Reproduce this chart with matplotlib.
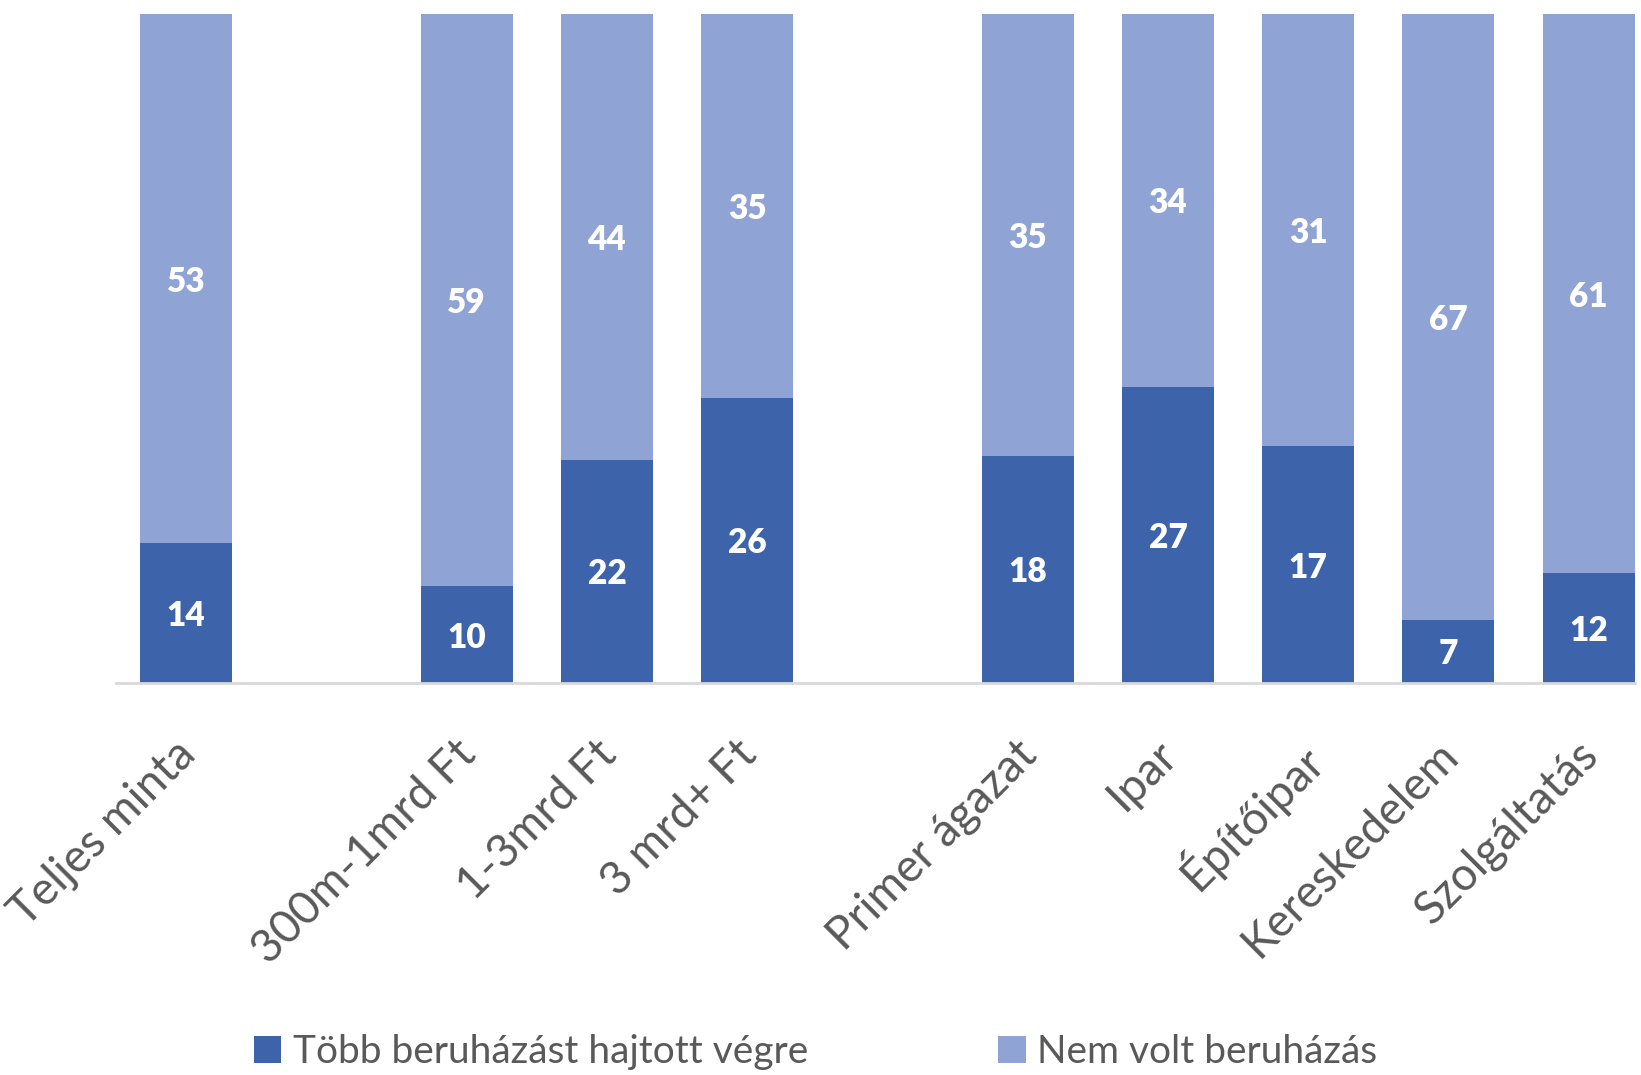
import matplotlib.pyplot as plt
import matplotlib.transforms as mtransforms
import numpy as np

# categories (empty strings are the gaps between groups)
categories = ['Teljes minta', '', '300m-1mrd Ft', '1-3mrd Ft', '3 mrd+ Ft', '',
              'Primer ágazat', 'Ipar', 'Építőipar', 'Kereskedelem', 'Szolgáltatás']
tobb = [14, np.nan, 10, 22, 26, np.nan, 18, 27, 17, 7, 12]
nem_volt = [53, np.nan, 59, 44, 35, np.nan, 35, 34, 31, 67, 61]
series_names = ['Több beruházást hajtott végre', 'Nem volt beruházás']

dark = '#3D64AB'
light = '#8FA4D5'
grey = '#595959'

plt.rcParams['font.family'] = ['Lato', 'DejaVu Sans']

a = np.array(tobb, dtype=float)
b = np.array(nem_volt, dtype=float)
total = a + b
sa = a / total
sb = b / total
x = np.arange(len(categories))

fig = plt.figure(figsize=(16.41, 10.75), dpi=100)
ax = fig.add_axes([116 / 1641, 1 - 683 / 1075, (1635 - 116) / 1641, (683 - 14) / 1075])

w = 0.656
bars1 = ax.bar(x, np.nan_to_num(sa), w, color=dark, label=series_names[0])
bars2 = ax.bar(x, np.nan_to_num(sb), w, bottom=np.nan_to_num(sa), color=light, label=series_names[1])

for i in range(len(x)):
    if np.isnan(total[i]):
        continue
    ax.text(x[i], sa[i] / 2, f'{int(a[i])}', ha='center', va='center_baseline',
            color='white', fontsize=24, fontweight='heavy')
    ax.text(x[i], sa[i] + sb[i] / 2, f'{int(b[i])}', ha='center', va='center_baseline',
            color='white', fontsize=24, fontweight='heavy')

ax.set_xlim(-0.5, 10.33)
ax.set_ylim(0, 1)
ax.set_yticks([])
for s in ['top', 'right', 'left']:
    ax.spines[s].set_visible(False)
ax.spines['bottom'].set_color('#D9D9D9')
ax.spines['bottom'].set_linewidth(2)

ax.set_xticks(x)
ax.set_xticklabels(categories, rotation=45, ha='right', va='top',
                   rotation_mode='anchor', fontsize=33, color=grey)
ax.tick_params(axis='x', length=0, pad=36)
shift = mtransforms.ScaledTranslation(-12 / 100, 0, fig.dpi_scale_trans)
for lab in ax.get_xticklabels():
    lab.set_transform(lab.get_transform() + shift)

fig.legend(handles=[bars1, bars2], labels=series_names, loc='center',
           bbox_to_anchor=(0.497, 1 - 1052 / 1075), ncol=2, frameon=False,
           fontsize=28, labelcolor=grey, handlelength=0.7, handleheight=0.7,
           handletextpad=0.3, columnspacing=4.9)

fig.savefig('out.png', dpi=100)
